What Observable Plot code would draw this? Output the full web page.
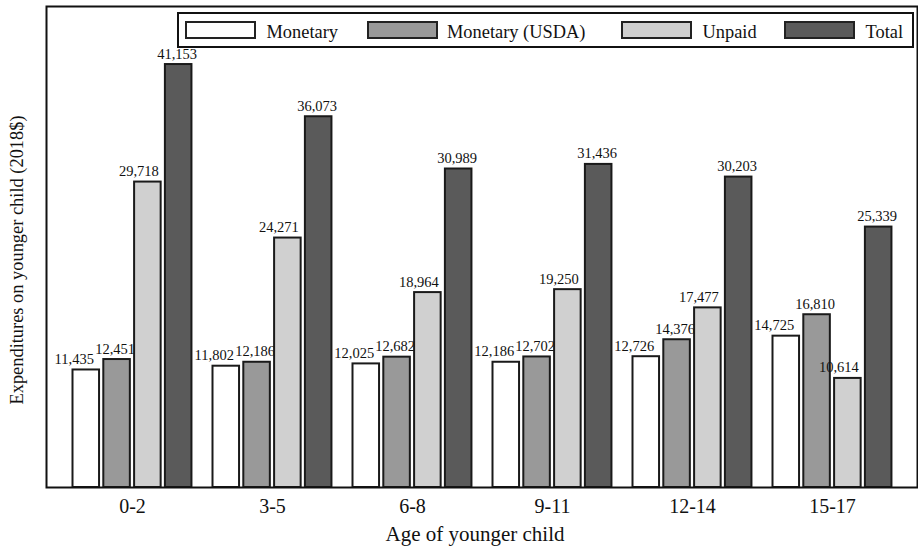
<!DOCTYPE html>
<html>
<head>
<meta charset="utf-8">
<script src="https://cdn.jsdelivr.net/npm/d3@7"></script>
<script src="https://cdn.jsdelivr.net/npm/@observablehq/plot@0.6"></script>
<style>
  html, body { margin: 0; padding: 0; background: #fff; }
  #wrap { position: relative; width: 918px; height: 548px; font-family: "Liberation Serif", "Times New Roman", serif; color: #111; }
  #wrap svg { position: absolute; left: 0; top: 0; }
  .lg-box { position: absolute; left: 177px; top: 12px; width: 737px; height: 36px; border: 2px solid #111; box-sizing: border-box; background: #fff; }
  .lg-sw { position: absolute; top: 20.5px; width: 71px; height: 18.5px; border: 2px solid #222; box-sizing: border-box; }
  .lg-tx { position: absolute; top: 22px; height: 20px; line-height: 20px; font-size: 18.4px; white-space: nowrap; color: #111; }
</style>
</head>
<body>
<div id="wrap"></div>
<script>
const ages = ["0-2", "3-5", "6-8", "9-11", "12-14", "15-17"];
const seriesNames = ["Monetary", "Monetary (USDA)", "Unpaid", "Total"];
const monetary = [11435, 11802, 12025, 12186, 12726, 14725];
const monetaryUSDA = [12451, 12186, 12682, 12702, 14376, 16810];
const unpaid = [29718, 24271, 18964, 19250, 17477, 10614];
const total = [41153, 36073, 30989, 31436, 30203, 25339];
const seriesColors = ["#ffffff", "#999999", "#d0d0d0", "#5a5a5a"];

const seriesValues = [monetary, monetaryUSDA, unpaid, total];
const fmt = d3.format(",");

// layout styling (pixels)
const band = 140.45;
const barStep = 30.8;
const barW = 27;
const firstInset = 10.5;
const labelShift = [-12, -2, -9, -1.5];

const marks = [];
seriesValues.forEach((vals, i) => {
  const data = ages.map((a, j) => ({age: a, value: vals[j], series: seriesNames[i]}));
  const insetLeft = firstInset + i * barStep;
  const insetRight = band - insetLeft - barW;
  const barCenterOffset = insetLeft + barW / 2 - band / 2;
  marks.push(Plot.text(data, {
    x: "age", y: "value", text: d => fmt(d.value),
    dx: barCenterOffset + labelShift[i], dy: -6,
    lineAnchor: "bottom", textAnchor: "middle",
    fontSize: 14.5, fill: "#111"
  }));
  marks.push(Plot.barY(data, {
    x: "age", y: "value", fill: seriesColors[i],
    stroke: "#1a1a1a", strokeWidth: 2,
    insetLeft, insetRight
  }));
});

marks.push(Plot.frame({stroke: "#111", strokeWidth: 2}));
marks.push(Plot.axisX({tickSize: 0, tickPadding: 11, fontSize: 20, label: null, fill: "#111"}));
marks.push(Plot.text(["Age of younger child"], {frameAnchor: "bottom", dx: -7, dy: 53, lineAnchor: "bottom", fontSize: 21, fill: "#111"}));
marks.push(Plot.text(["Expenditures on younger child (2018$)"], {frameAnchor: "left", rotate: -90, dx: -29.5, dy: 13, lineAnchor: "middle", textAnchor: "middle", fontSize: 18.4, fill: "#111"}));

const chart = Plot.plot({
  width: 918,
  height: 548,
  marginLeft: 46,
  marginRight: 1,
  marginTop: 6,
  marginBottom: 61,
  style: {fontFamily: "'Liberation Serif', 'Times New Roman', serif", background: "#fff", color: "#111"},
  x: {domain: ages, range: [61.025, 61.025 + 6 * band], padding: 0, axis: null},
  y: {domain: [0, 46800], axis: null},
  marks
});

const wrap = document.getElementById("wrap");
wrap.appendChild(chart);

// legend (inside the plot area, as in the reference)
const box = document.createElement("div");
box.className = "lg-box";
wrap.appendChild(box);
const swatchLeft = [185, 367, 620.5, 783.5];
const textLeft = [266.5, 447, 702.5, 865.5];
seriesNames.forEach((name, i) => {
  const sw = document.createElement("div");
  sw.className = "lg-sw";
  sw.style.left = swatchLeft[i] + "px";
  sw.style.background = seriesColors[i];
  wrap.appendChild(sw);
  const tx = document.createElement("div");
  tx.className = "lg-tx";
  tx.style.left = textLeft[i] + "px";
  tx.textContent = name;
  wrap.appendChild(tx);
});
</script>
</body>
</html>
